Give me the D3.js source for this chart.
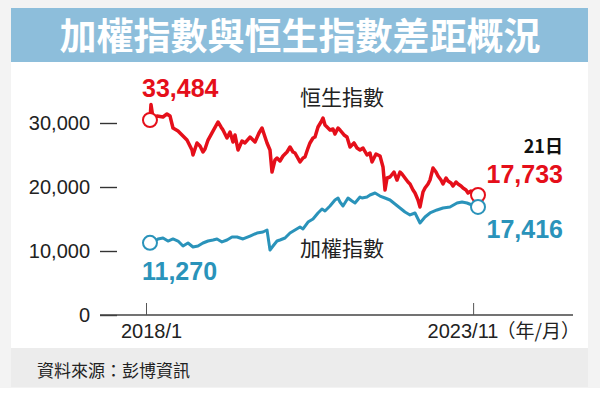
<!DOCTYPE html>
<html><head><meta charset="utf-8">
<script src="https://cdn.jsdelivr.net/npm/d3@7"></script>
<style>
html,body{margin:0;padding:0;background:#fff;}
svg{display:block;}
</style></head>
<body>
<svg id="c" width="600" height="396"></svg>
<script>
// ---- data (decimal year, index level) ----
const hsiT = [2018.071,2018.089,2018.125,2018.196,2018.303,2018.374,2018.428,2018.481,2018.571,2018.642,2018.731,2018.820,2018.838,2018.909,2018.963,2019.016,2019.052,2019.106,2019.177,2019.284,2019.337,2019.373,2019.444,2019.498,2019.551,2019.587,2019.641,2019.712,2019.765,2019.855,2019.908,2019.944,2020.015,2020.069,2020.122,2020.158,2020.211,2020.247,2020.300,2020.336,2020.389,2020.443,2020.514,2020.568,2020.621,2020.657,2020.746,2020.800,2020.835,2020.889,2020.924,2020.978,2021.014,2021.067,2021.121,2021.156,2021.192,2021.228,2021.281,2021.335,2021.370,2021.424,2021.459,2021.531,2021.584,2021.638,2021.709,2021.763,2021.816,2021.870,2021.941,2021.994,2022.030,2022.101,2022.173,2022.226,2022.262,2022.298,2022.351,2022.422,2022.476,2022.529,2022.565,2022.618,2022.672,2022.708,2022.761,2022.797,2022.850,2022.886,2022.939,2022.975,2023.029,2023.064,2023.118,2023.171,2023.207,2023.260,2023.296,2023.350,2023.385,2023.439,2023.474,2023.528,2023.564,2023.617,2023.653,2023.706,2023.742,2023.795,2023.849,2023.920];
const hsiV = [30470,32900,30780,31090,30940,31410,31090,29220,28750,28130,27340,25780,25000,26880,26410,25470,25940,27340,28440,30160,29380,28910,27660,28590,27030,28130,25780,27190,26880,27810,27340,27030,28440,29220,27810,26880,25780,22340,24220,24530,24060,24840,25470,26250,25470,25310,23910,24530,24690,26090,26880,27660,27810,29380,30160,30780,29690,29380,28910,29060,28280,29220,28910,28130,27810,26250,26880,26090,25780,26090,25000,25310,23910,25160,24840,23130,19530,21410,21560,22340,21090,22340,22030,21410,20780,20470,19530,19060,17970,16880,19220,19840,20470,21090,22970,22340,21720,21090,20470,21410,20940,20630,20160,20780,20470,20160,19840,19530,19060,19380,18910,18750];
const taiexT = [2018.071,2018.160,2018.214,2018.303,2018.392,2018.481,2018.571,2018.660,2018.749,2018.838,2018.927,2019.016,2019.106,2019.195,2019.266,2019.355,2019.444,2019.534,2019.623,2019.730,2019.855,2019.979,2020.086,2020.158,2020.211,2020.265,2020.336,2020.389,2020.479,2020.568,2020.657,2020.746,2020.800,2020.889,2020.978,2021.067,2021.138,2021.192,2021.281,2021.370,2021.424,2021.459,2021.513,2021.602,2021.673,2021.727,2021.816,2021.852,2021.941,2021.994,2022.084,2022.173,2022.262,2022.351,2022.440,2022.529,2022.618,2022.708,2022.797,2022.886,2022.975,2023.064,2023.189,2023.296,2023.421,2023.546,2023.635,2023.724,2023.813,2023.920];
const taiexV = [11270,11560,11880,12030,11560,11880,11560,10780,11250,10630,10780,11250,11560,11720,11880,11410,11720,12190,12190,11880,12340,12810,12970,13280,10160,10780,11560,11720,12030,12810,13280,13750,13440,14530,15000,15940,16560,16250,17030,17970,18280,17660,17030,18280,17810,17500,18440,18280,18440,18750,19060,18590,18280,17970,17340,16720,16090,15630,15940,14380,15310,15940,16410,16720,16880,17500,17660,17500,17190,16880];
const yTicks = [0, 10000, 20000, 30000];
const xTickVals = [2018.0, 2023.833];
const xTickLabels = ["2018/1", "2023/11"];
const title = "加權指數與恒生指數差距概況";
const source = "資料來源：彭博資訊";

// ---- layout ----
const RED = "#e50f1a", BLUE = "#2a93ba";
const svg = d3.select("#c");
const NUM = "'Liberation Sans', Arial, sans-serif";
const CJK = "'Noto Sans CJK TC', 'Noto Sans CJK SC', sans-serif";

svg.append("rect").attr("x",0).attr("y",0).attr("width",600).attr("height",388).attr("fill","#f3f3f3");
svg.append("rect").attr("x",11).attr("y",8).attr("width",577).attr("height",340).attr("fill","#fff");
svg.append("rect").attr("x",11).attr("y",8).attr("width",577).attr("height",54).attr("fill","#8dbedb");
svg.append("rect").attr("x",11).attr("y",348).attr("width",577).attr("height",39).attr("fill","#ececec");

svg.append("text").attr("x",300).attr("y",50).attr("text-anchor","middle")
  .attr("font-family",CJK).attr("font-weight",700).attr("font-size",37).attr("fill","#fff").text(title);
svg.append("text").attr("x",37).attr("y",377)
  .attr("font-family",CJK).attr("font-size",17).attr("fill","#222").text(source);

const x = d3.scaleLinear().domain([2018.0, 2023.92]).range([146, 478]);
const y = d3.scaleLinear().domain([0, 30000]).range([315, 123]);

// y axis
const ya = svg.append("g").attr("transform","translate(117,0)")
  .call(d3.axisLeft(y).tickValues(yTicks).tickFormat(d3.format(",")).tickSize(17).tickPadding(10));
ya.select(".domain").remove();
ya.selectAll("line").attr("stroke","#333").attr("stroke-width",1.4);
ya.selectAll("text").attr("font-family",NUM).attr("font-size",20).attr("fill","#222");

// x axis baseline
svg.append("line").attr("x1",100).attr("x2",573).attr("y1",y(0)).attr("y2",y(0))
  .attr("stroke","#444").attr("stroke-width",1.4);
const xa = svg.append("g").attr("transform",`translate(0,${y(0)})`)
  .call(d3.axisBottom(x).tickValues(xTickVals).tickFormat((d,i)=>xTickLabels[i]).tickSizeInner(-12).tickSizeOuter(0).tickPadding(9));
xa.select(".domain").remove();
xa.selectAll("line").attr("stroke","#555").attr("stroke-width",1);
xa.selectAll("text").attr("font-family",NUM).attr("font-size",20).attr("fill","#222");
xa.selectAll(".tick").filter((d,i)=>i===0).select("text").attr("dx",5);
const lastT = xa.selectAll(".tick").filter((d,i)=>i===xTickVals.length-1).select("text")
  .attr("text-anchor","start").attr("x",-46);
lastT.append("tspan").attr("font-family",CJK).attr("font-size",19).attr("dx",-2).text("（年/月）");

// lines
const line = d3.line().x(d=>x(d[0])).y(d=>y(d[1]));
const hsi = hsiT.map((t,i)=>[t,hsiV[i]]);
const taiex = taiexT.map((t,i)=>[t,taiexV[i]]);
svg.append("path").datum(taiex).attr("d",line).attr("fill","none").attr("stroke",BLUE)
  .attr("stroke-width",3).attr("stroke-linejoin","round");
svg.append("path").datum(hsi).attr("d",line).attr("fill","none").attr("stroke",RED)
  .attr("stroke-width",3.5).attr("stroke-linejoin","round");

// end circles
[[hsi,RED],[taiex,BLUE]].forEach(([s,c])=>{
  [s[0], s[s.length-1]].forEach(p=>{
    svg.append("circle").attr("cx",x(p[0])).attr("cy",y(p[1])).attr("r",7)
      .attr("fill","#fff").attr("stroke",c).attr("stroke-width",2);
  });
});

// labels
const lab = (t,xx,yy,opts)=>svg.append("text").attr("x",xx).attr("y",yy)
  .attr("text-anchor",opts.anchor||"start").attr("font-family",opts.font||NUM)
  .attr("font-weight",opts.bold?700:400).attr("font-size",opts.size).attr("fill",opts.color).text(t);
lab("33,484",142,97,{bold:true,size:25,color:RED});
lab("11,270",142,280,{bold:true,size:25,color:BLUE});
lab("17,733",563,183,{bold:true,size:25,color:RED,anchor:"end"});
lab("17,416",563,238,{bold:true,size:25,color:BLUE,anchor:"end"});
lab("21日",563,153,{bold:true,size:18,color:"#111",anchor:"end",font:CJK});
lab("恒生指數",300,105,{size:21,color:"#222",font:CJK});
lab("加權指數",300,256,{size:21,color:"#222",font:CJK});
</script>
</body></html>
